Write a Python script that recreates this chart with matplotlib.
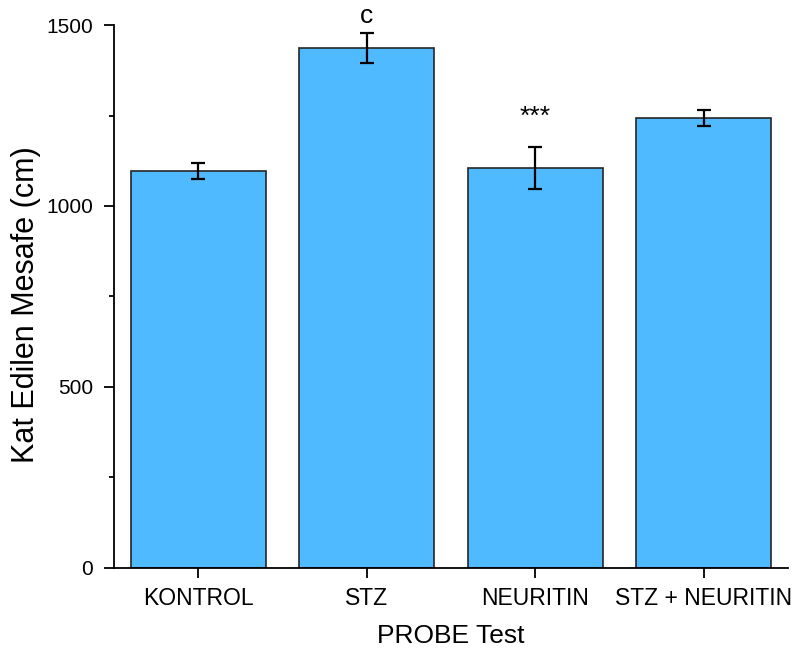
import matplotlib
matplotlib.use("Agg")
import matplotlib.pyplot as plt
from matplotlib.ticker import MultipleLocator

plt.rcParams['font.family'] = ['Liberation Sans', 'DejaVu Sans']

groups = ["KONTROL", "STZ", "NEURITIN", "STZ + NEURITIN"]
means = [1097, 1436, 1106, 1243]
sems = [23, 42, 58, 23]
marks = ["", "c", "***", ""]
mark_offsets_pt = [0, 7, 16.5, 0]

fig = plt.figure(figsize=(7.94, 6.53), dpi=100)
ax = fig.add_axes([0.1436, 0.1302, 0.8488, 0.8315])

x = list(range(len(groups)))
ax.bar(x, means, width=0.8, color="#4FBAFF", edgecolor="#262626", linewidth=1.2, zorder=2)
ax.errorbar(x, means, yerr=sems, fmt="none", ecolor="black", elinewidth=1.6,
            capsize=5, capthick=1.6, zorder=3)

for xi, m, s, lab, off in zip(x, means, sems, marks, mark_offsets_pt):
    if lab:
        ax.annotate(lab, (xi, m + s), xytext=(0, off), textcoords="offset points",
                    ha="center", va="baseline", fontsize=19)

ax.set_xlim(-0.5, 3.5)
ax.set_ylim(0, 1500)
ax.set_xticks(x)
ax.set_xticklabels(groups, fontsize=16.5)
ax.yaxis.set_major_locator(MultipleLocator(500))
ax.yaxis.set_minor_locator(MultipleLocator(250))
ax.tick_params(axis="y", which="major", labelsize=15, length=7, width=1.3,
               direction="out", pad=8)
ax.tick_params(axis="y", which="minor", length=3.5, width=1.3, direction="out")
ax.tick_params(axis="x", which="major", length=7.5, width=1.3, direction="out", pad=6)

for side in ("top", "right"):
    ax.spines[side].set_visible(False)
for side in ("left", "bottom"):
    ax.spines[side].set_linewidth(1.3)

ax.set_xlabel("PROBE Test", fontsize=19, labelpad=10)
ax.set_ylabel("Kat Edilen Mesafe (cm)", fontsize=22, labelpad=4)
ax.yaxis.label.set_y(0.485)

fig.savefig("out.png", dpi=100)
